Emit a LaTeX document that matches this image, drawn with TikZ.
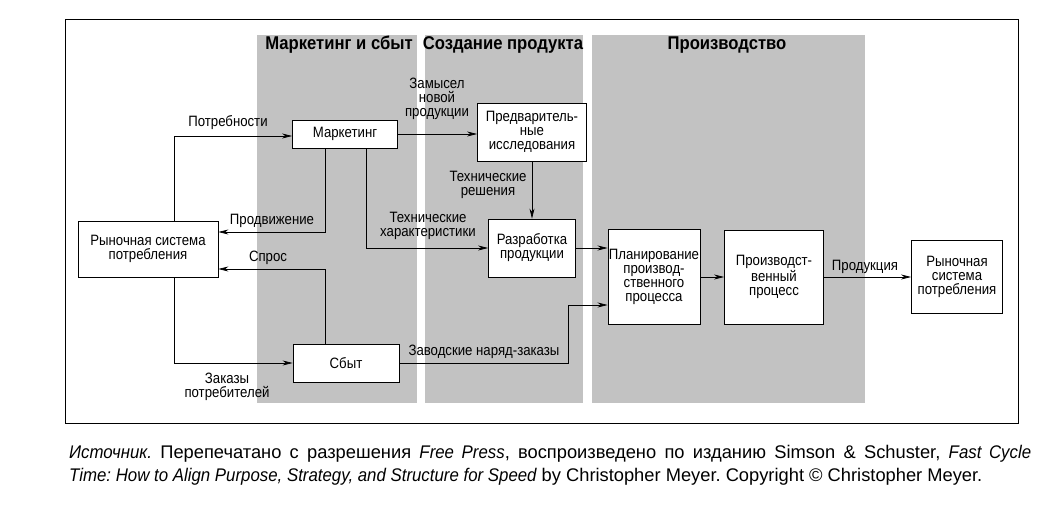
\documentclass[tikz,border=0pt]{standalone}
\usepackage{fontspec}
\usepackage{tikz}
\usetikzlibrary{arrows.meta}
\newfontfamily\cond[FakeStretch=0.88]{Liberation Sans}
\newfontfamily\headfam[FakeStretch=0.9]{Liberation Sans}
\newfontfamily\capfam[ItalicFeatures={FakeStretch=0.92}]{Liberation Sans}
\newcommand{\nodefont}{\cond\fontsize{15}{14}\selectfont}
\newcommand{\headfont}{\headfam\fontsize{18.5}{18.5}\selectfont\bfseries}
\newcommand{\capfont}{\capfam\fontsize{18.3}{20}\selectfont\frenchspacing}

\begin{document}
\begin{tikzpicture}[
    x=1pt, y=-1pt,
    box/.style={draw, fill=white, line width=0.9pt, align=center, font=\nodefont, inner sep=1pt},
    lbl/.style={font=\nodefont, align=center, inner sep=0pt},
    head/.style={font=\headfont, inner sep=0pt},
    band/.style={fill=black!24},
    arr/.style={-{Stealth[length=10pt, width=5pt]}, line width=0.7pt},
    note/.style={font=\capfont, anchor=base west, inner sep=0pt},
  ]
  \useasboundingbox (0,0) rectangle (1054,508);

  % --- Frame and bands ---
  \draw[line width=0.8pt] (65,19) rectangle (1018,423);
  \fill[band] (257,35) rectangle (417,403);
  \fill[band] (425,35) rectangle (583,403);
  \fill[band] (592,35) rectangle (865,403);
  \node[head] (h1) at (339,45) {Маркетинг и сбыт};
  \node[head] (h2) at (503,45) {Создание продукта};
  \node[head] (h3) at (727,45) {Производство};

  % --- Boxes ---
  \node[box, minimum width=140, minimum height=56] (mktL) at (148,249) {Рыночная система\\потребления};
  \node[box, minimum width=105, minimum height=28] (mkt) at (345,134) {Маркетинг};
  \node[box, minimum width=106, minimum height=38] (sale) at (346,363) {Сбыт};
  \node[box, minimum width=109, minimum height=58] (pre) at (532,132) {Предваритель-\\ные\\исследования};
  \node[box, minimum width=87, minimum height=58] (dev) at (532,248) {Разработка\\продукции};
  \node[box, minimum width=92, minimum height=95] (plan) at (654,277) {Планирование\\производ-\\ственного\\процесса};
  \node[box, minimum width=99, minimum height=94] (proc) at (774,277) {Производст-\\венный\\процесс};
  \node[box, minimum width=91, minimum height=73] (mktR) at (957,277) {Рыночная\\система\\потребления};

  % --- Bend points ---
  \coordinate (c1) at (174,136);
  \coordinate (c2) at (325,232);
  \coordinate (c3) at (325,269);
  \coordinate (c4) at (174,363);
  \coordinate (c5) at (366,248);
  \coordinate (c6) at (568,305);

  % --- Connectors ---
  \draw[arr] (mktL.north -| c1) -- (c1) -- (mkt.west |- c1);
  \draw[arr] (mkt.south -| c2) -- (c2) -- (mktL.east |- c2);
  \draw[arr] (sale.north -| c3) -- (c3) -- (mktL.east |- c3);
  \draw[arr] (mktL.south -| c4) -- (c4) -- (sale.west |- c4);
  \draw[arr] (mkt.south -| c5) -- (c5) -- (dev.west |- c5);
  \draw[arr] (mkt.east) -- (pre.west |- mkt.east);
  \draw[arr] (pre.south) -- (dev.north);
  \draw[arr] (dev.east) -- (plan.west |- dev.east);
  \draw[arr] (sale.east) -| (c6) -- (plan.west |- c6);
  \draw[arr] (plan.east) -- (proc.west);
  \draw[arr] (proc.east) -- (mktR.west);

  % --- Connector labels ---
  \node[lbl] (l1) at (228,123) {Потребности};
  \node[lbl] (l2) at (272,221) {Продвижение};
  \node[lbl] (l3) at (268,258) {Спрос};
  \node[lbl] (l4) at (227,387) {Заказы\\потребителей};
  \node[lbl] (l5) at (428,226) {Технические\\характеристики};
  \node[lbl] (l6) at (437,99) {Замысел\\новой\\продукции};
  \node[lbl] (l7) at (488,185) {Технические\\решения};
  \node[lbl] (l8) at (484,352) {Заводские наряд-заказы};
  \node[lbl] (l9) at (865,267) {Продукция};

  % --- Source note ---
  \node[note] (src1) at (69,458)
    {\makebox[962pt][s]{\itshape Источник.\upshape{} Перепечатано с разрешения \itshape Free Press\upshape, воспроизведено по изданию Simson \& Schuster, \itshape Fast Cycle}};
  \node[note] (src2) at (69,481)
    {\itshape Time: How to Align Purpose, Strategy, and Structure for Speed\upshape{} by Christopher Meyer. Copyright © Christopher Meyer.};

\end{tikzpicture}
\end{document}
